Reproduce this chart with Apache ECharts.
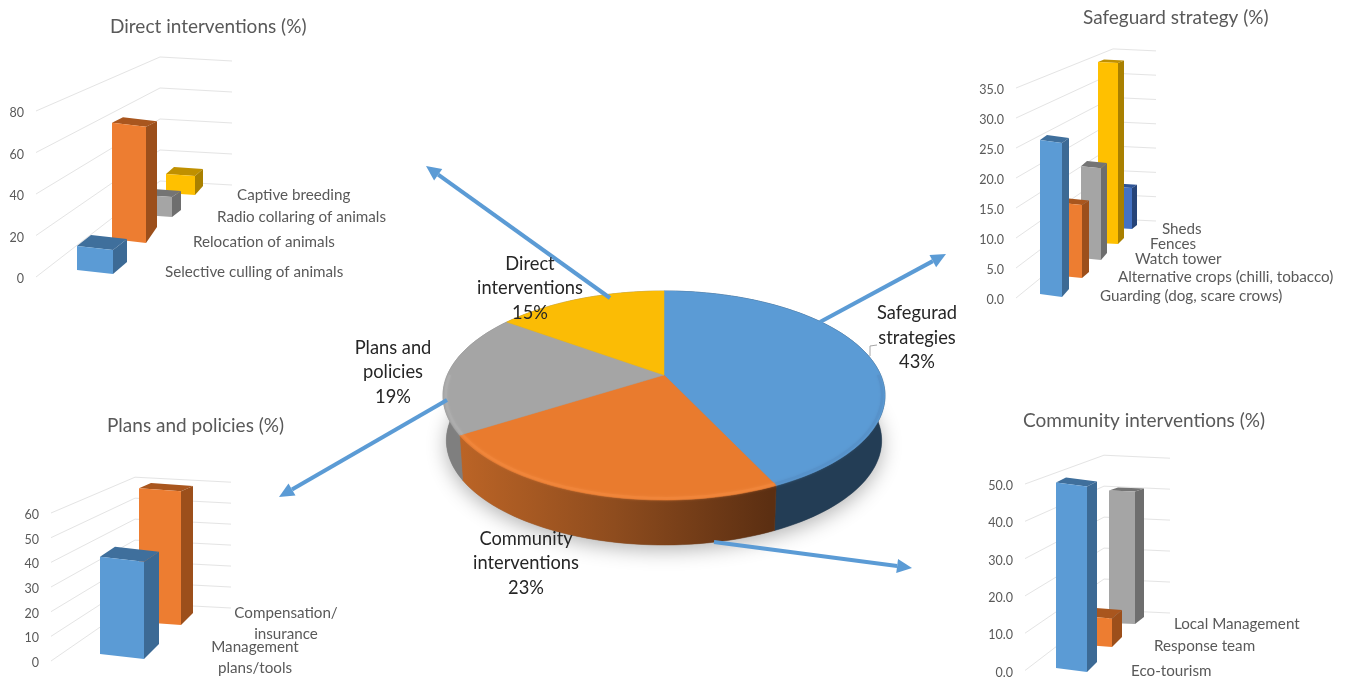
<!DOCTYPE html>
<html>
<head>
<meta charset="utf-8">
<style>html,body{margin:0;padding:0;background:#fff}#c{width:1349px;height:679px}</style>
<script src="https://cdn.jsdelivr.net/npm/echarts@6/dist/echarts.min.js"></script>
</head>
<body>
<div id="c"></div>
<script>
// ---------- data ----------
const pieNames = ['Safegurad\nstrategies\n43%', 'Community\ninterventions\n23%', 'Plans and\npolicies\n19%', 'Direct\ninterventions\n15%'];
const pieValues = [43, 23, 19, 15];

const directNames = ['Selective culling of animals', 'Relocation of animals', 'Radio collaring of animals', 'Captive breeding'];
const directValues = [12, 64, 12, 12];
const directTicks = [0, 20, 40, 60, 80];

const safeguardNames = ['Guarding (dog, scare crows)', 'Alternative crops (chilli, tobacco)', 'Watch tower', 'Fences', 'Sheds'];
const safeguardValues = [26, 13, 17, 35, 8];
const safeguardTicks = [0, 5, 10, 15, 20, 25, 30, 35];

const plansNames = ['Management\nplans/tools', 'Compensation/\ninsurance'];
const plansValues = [40, 60];
const plansTicks = [0, 10, 20, 30, 40, 50, 60];

const communityNames = ['Eco-tourism', 'Response team', 'Local Management'];
const communityValues = [50, 8, 42];
const communityTicks = [0, 10, 20, 30, 40, 50];

// ---------- styles ----------
const FONT = 'Lato, "Noto Sans", sans-serif';
const GREY = '#595959';
const LABEL_SHIFT = 2;
const PAL = {
  blue:   ['#5b9bd5', '#3f6f9c', '#3c6a95'],
  orange: ['#ed7d31', '#a9561e', '#9c4f1b'],
  gray:   ['#a5a5a5', '#747474', '#6e6e6e'],
  yellow: ['#ffc000', '#c09000', '#a98000'],
  navy:   ['#4472c4', '#2f5597', '#264478']
};

// layout per bar: cx, width, front-right base y, tilt, dx, dyBottom, height scale, back height scale
const charts = [
  { title: 'Direct interventions (%)', tx: 110, ty: 17, names: directNames, values: directValues, ticks: directTicks,
    left: 36, right: 232, top: 113, bottom: 279, bx: 160, by0: 181, bs: .747, ey0: 185, es: .747, ex: 232,
    fmt: 0, colors: ['blue', 'orange', 'gray', 'yellow'],
    bars: [[95, 36, 274, 4, 14, -12, .96, .96], [129, 34, 243, 4, 11, -16, .875, .91], [158, 28, 217, 2, 9, -7, .80, .95], [180.5, 29, 195, 2, 8, -9, .76, .9]],
    labels: [[165, 272], [193, 242], [217, 217], [237, 195]] },
  { title: 'Safeguard strategy (%)', tx: 1083, ty: 8, names: safeguardNames, values: safeguardValues, ticks: safeguardTicks,
    left: 1016, right: 1155, top: 90, bottom: 300, bx: 1113, by0: 219, bs: .81, ey0: 221, es: .81, ex: 1156,
    fmt: 1, colors: ['blue', 'orange', 'gray', 'yellow', 'navy'],
    bars: [[1051, 22, 297, 3, 7, -8, .987, .98], [1072, 20, 278, 2, 7, -6, .936, .98], [1091, 20, 260, 2, 6, -7, .90, .98], [1108, 20, 244, 1, 6, -6, .862, .98], [1124, 16, 229, 1, 5, -4, .854, .98]],
    labels: [[1100, 296], [1118, 277], [1135, 259], [1150, 244], [1162, 229]] },
  { title: 'Plans and policies (%)', tx: 107, ty: 416, names: plansNames, values: plansValues, ticks: plansTicks,
    left: 51, right: 230, top: 515, bottom: 663, bx: 135, by0: 603, bs: .85, ey0: 608, es: .85, ex: 231,
    fmt: 0, colors: ['blue', 'orange'],
    bars: [[122, 44, 659, 5, 15, -15, .985, .95], [160, 42, 625, 3, 12, -12, .904, .95]],
    labels: [[255, 658], [286, 624]], center: true },
  { title: 'Community interventions (%)', tx: 1023, ty: 411, names: communityNames, values: communityValues, ticks: communityTicks,
    left: 1025, right: 1168, top: 486, bottom: 676, bx: 1104, by0: 610, bs: .83, ey0: 613, es: .83, ex: 1170,
    fmt: 1, colors: ['blue', 'orange', 'gray'],
    bars: [[1071.5, 31, 672, 4, 10, -10, .995, .973], [1099, 26, 647, 2, 10, -10, .954, .95], [1122, 26, 624, 1, 9, -7, .846, .97]],
    labels: [[1131, 671], [1154, 646], [1174, 624]] }
];

// ---------- builders ----------
const grids = [], xAxes = [], yAxes = [], series = [], titles = [];

charts.forEach(function (c, gi) {
  titles.push({ text: c.title, left: c.tx, top: c.ty, padding: 0,
    textStyle: { color: GREY, fontSize: 19, fontWeight: 'normal', fontFamily: FONT } });
  grids.push({ left: c.left, top: c.top, width: c.right - c.left, height: c.bottom - c.top, containLabel: false });
  xAxes.push({ gridIndex: gi, type: 'value', min: c.left, max: c.right, show: false });
  const last = c.ticks[c.ticks.length - 1];
  yAxes.push({ gridIndex: gi, type: 'value', min: 0, max: last, interval: c.ticks[1] - c.ticks[0],
    axisLine: { show: false }, axisTick: { show: false }, splitLine: { show: false },
    axisLabel: { color: GREY, fontSize: 12.5, fontFamily: FONT, margin: 12,
      formatter: function (v) { return v.toFixed(c.fmt); } } });

  // walls
  series.push({ type: 'custom', xAxisIndex: gi, yAxisIndex: gi, silent: true, z: 1, clip: false,
    data: c.ticks.map(function (t) { return [c.left, t]; }),
    renderItem: function (p, api) {
      const f = api.coord([api.value(0), api.value(1)]);
      const y0 = api.coord([c.left, 0])[1];
      const d = y0 - f[1];
      return { type: 'polyline', shape: { points: [[f[0], f[1] - LABEL_SHIFT], [c.bx, c.by0 - d * c.bs], [c.ex, c.ey0 - d * c.es]] },
        style: { stroke: '#e4e4e4', lineWidth: 1, fill: null } };
    } });

  // bars
  series.push({ type: 'custom', xAxisIndex: gi, yAxisIndex: gi, silent: true, z: 3, clip: false,
    data: c.values.map(function (v, i) { return [c.bars[i][0], v]; }),
    renderItem: function (p, api) {
      const i = p.dataIndex, b = c.bars[i], pal = PAL[c.colors[i]];
      const zero = api.coord([api.value(0), 0]), top = api.coord([api.value(0), api.value(1)]);
      const h = (zero[1] - top[1]) * b[6], hb = h * b[7];
      const xl = zero[0] - b[1] / 2, xr = zero[0] + b[1] / 2;
      const br = [xr, b[2]], bl = [xl, b[2] - b[3]];
      const tr = [xr, br[1] - h], tl = [xl, bl[1] - h];
      const bbr = [xr + b[4], br[1] + b[5]], tbr = [bbr[0], bbr[1] - hb];
      const tbl = [xl + b[4], tbr[1] - b[3]];
      const z2 = 10 * (c.bars.length - i);
      return { type: 'group', children: [
        { type: 'polygon', z2: z2, shape: { points: [tl, tr, tbr, tbl] }, style: { fill: pal[1] } },
        { type: 'polygon', z2: z2, shape: { points: [tr, br, bbr, tbr] }, style: { fill: pal[2] } },
        { type: 'polygon', z2: z2 + 1, shape: { points: [tl, tr, br, bl] }, style: { fill: pal[0] } }
      ] };
    } });

  // category labels
  series.push({ type: 'custom', xAxisIndex: gi, yAxisIndex: gi, silent: true, z: 5, clip: false,
    data: c.names.map(function (n, i) { return [c.labels[i][0], 0]; }),
    renderItem: function (p, api) {
      const i = p.dataIndex;
      return { type: 'text', x: c.labels[i][0], y: c.labels[i][1],
        style: { text: c.names[i], fill: GREY, font: '15.2px ' + FONT, lineHeight: 21,
          align: c.center ? 'center' : 'left', verticalAlign: 'middle' } };
    } });
});

// ---------- 3D pie ----------
const PX = 664, PY = 375, A = 216.7, B = 100.5, K = 0.196, DEPTH = 45;
const pieFace = ['#5b9bd5', '#e97b2e', '#a5a5a5', '#fbbc05'];
const pieWall = ['#233d55',
  { type: 'linear', x: 460, y: 0, x2: 769, y2: 0, global: true,
    colorStops: [{ offset: 0, color: '#bb6426' }, { offset: .5, color: '#8e4c1e' }, { offset: 1, color: '#5c2f12' }] },
  '#7f7f7f', '#7f7f7f'];
const pieBevel = ['#5792ca', '#f0853a', '#adadad', '#fbbc05'];
const pieLabels = [[917, 338], [526, 563.5], [393, 372.5], [530, 288.5]];
const total = pieValues.reduce(function (a, b) { return a + b; }, 0);
function cum(i) { let s = 0; for (let j = 0; j < i; j++) s += pieValues[j]; return s / total; }
function rim(f, s) {
  const t = f * Math.PI * 2, u = Math.sin(t) * (s || 1), v = Math.cos(t) * (s || 1), w = 1 + K * v;
  return [PX + A * u / w, PY - B * v / w];
}
function arc(a, b, s) {
  const pts = [], n = Math.max(4, Math.ceil((b - a) * 200));
  for (let i = 0; i <= n; i++) pts.push(rim(a + (b - a) * i / n, s));
  return pts;
}
function drop(pts) {
  return pts.map(function (q) { return [PX + (q[0] - PX) * .985, q[1] + DEPTH]; });
}

series.push({ type: 'custom', coordinateSystem: 'none', silent: true, z: 6,
  data: pieValues.map(function (v) { return [v]; }),
  renderItem: function (p) {
    const i = p.dataIndex, a = cum(i), b = cum(i + 1), top = arc(a, b);
    const kids = [];
    if (i === 0) {
      kids.push({ type: 'polygon', z2: 0, shape: { points: drop(arc(0, 1)) },
        style: { fill: '#888', shadowBlur: 20, shadowColor: 'rgba(0,0,0,.3)', shadowOffsetY: 5 } });
    }
    kids.push({ type: 'polygon', z2: 1, shape: { points: top.concat(drop(top).reverse()) },
      style: { fill: pieWall[i], stroke: pieWall[i], lineWidth: .5 } });
    return { type: 'group', children: kids };
  } });

series.push({ type: 'custom', coordinateSystem: 'none', silent: true, z: 7,
  data: pieValues.map(function (v) { return [v]; }),
  renderItem: function (p) {
    const i = p.dataIndex, a = cum(i), b = cum(i + 1);
    const kids = [{ type: 'polygon', shape: { points: [[PX, PY]].concat(arc(a, b)) },
      style: { fill: pieFace[i], stroke: pieFace[i], lineWidth: .5 } }];
    const fa = Math.max(a, .25), fb = Math.min(b, .75);
    if (fb > fa) {
      kids.push({ type: 'polyline', shape: { points: arc(fa, fb, .988) },
        style: { stroke: pieBevel[i], lineWidth: 2.5, fill: null, shadowBlur: 3, shadowColor: pieBevel[i] } });
    }
    return { type: 'group', children: kids };
  } });

series.push({ type: 'custom', coordinateSystem: 'none', silent: true, z: 9,
  data: pieNames.map(function (n, i) { return [i]; }),
  renderItem: function (p) {
    const i = p.dataIndex;
    return { type: 'text', x: pieLabels[i][0], y: pieLabels[i][1],
      style: { text: pieNames[i], fill: '#262626', font: '18.3px ' + FONT, lineHeight: 24.5, align: 'center', verticalAlign: 'middle' } };
  } });

// ---------- arrows and leader ----------
const arrows = [[610, 298, 426, 166], [820, 322, 946, 254], [447, 400, 279, 497], [714, 542, 912, 568]];
const graphicEls = [];
arrows.forEach(function (a) {
  const dx = a[2] - a[0], dy = a[3] - a[1], L = Math.hypot(dx, dy), ux = dx / L, uy = dy / L;
  const bx = a[2] - ux * 15, by = a[3] - uy * 15;
  graphicEls.push({ type: 'line', z: 8, silent: true, shape: { x1: a[0], y1: a[1], x2: bx, y2: by },
    style: { stroke: '#5b9bd5', lineWidth: 4 } });
  graphicEls.push({ type: 'polygon', z: 8, silent: true,
    shape: { points: [[a[2], a[3]], [bx - uy * 7, by + ux * 7], [bx + uy * 7, by - ux * 7]] },
    style: { fill: '#5b9bd5' } });
});
graphicEls.push({ type: 'polyline', z: 8, silent: true, shape: { points: [[870, 356], [870, 346], [877, 345]] },
  style: { stroke: '#a6a6a6', lineWidth: 1, fill: null } });

const chart = echarts.init(document.getElementById('c'), null, { renderer: 'canvas' });
chart.setOption({
  animation: false,
  backgroundColor: '#ffffff',
  title: titles,
  grid: grids,
  xAxis: xAxes,
  yAxis: yAxes,
  series: series,
  graphic: graphicEls
});
</script>
</body>
</html>
